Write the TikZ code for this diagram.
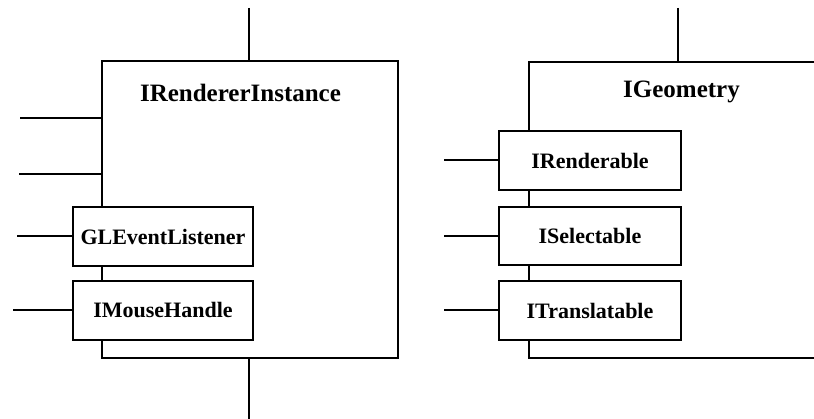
\documentclass[tikz,border=0pt]{standalone}
\usepackage{fontspec}
\setmainfont{Liberation Serif}
\begin{document}
\begin{tikzpicture}[x=1pt,y=-1pt,line width=2pt,
  component/.style={draw,fill=white,inner sep=0pt,anchor=north west},
  iface/.style={draw,fill=white,inner sep=0pt,
    font=\fontsize{22}{24}\bfseries\selectfont},
  caption/.style={inner sep=0pt,font=\fontsize{25}{28}\bfseries\selectfont}]
  \clip (0,0) rectangle (814,419);

  % left component with its provided interfaces
  \node[component,minimum width=296pt,minimum height=297pt] (rinst) at (101,60) {};
  \node[caption] (rinstname) at (240.5,93) {IRendererInstance};
  \node[iface,minimum width=180pt,minimum height=59pt] (gl) at (163,236.5) {GLEventListener};
  \node[iface,minimum width=180pt,minimum height=59pt] (mouse) at (163,310.5) {IMouseHandle};

  % right component, running past the right edge
  \node[component,minimum width=300pt,minimum height=296pt] (geom) at (528,61) {};
  \node[caption] (geomname) at (681.5,92) {IGeometry};
  \node[iface,minimum width=182pt,minimum height=59pt] (rend) at (590,160.5) {IRenderable};
  \node[iface,minimum width=182pt,minimum height=58pt] (sel) at (590,236) {ISelectable};
  \node[iface,minimum width=182pt,minimum height=59pt] (trans) at (590,310.5) {ITranslatable};

  % free ends of the connectors
  \coordinate (rtop) at (249,8);
  \coordinate (rbot) at (249,419);
  \coordinate (rl1) at (20,118);
  \coordinate (rl2) at (19,174);
  \coordinate (rl3) at (17,236.5);
  \coordinate (rl4) at (13,310.5);
  \coordinate (gtop) at (678,8);
  \coordinate (gl1) at (444,160.5);
  \coordinate (gl2) at (444,236);
  \coordinate (gl3) at (444,310.5);

  \draw (rtop) -- (rtop |- rinst.north);
  \draw (rbot) -- (rbot |- rinst.south);
  \draw (rl1) -- (rl1 -| rinst.west);
  \draw (rl2) -- (rl2 -| rinst.west);
  \draw (rl3) -- (gl.west);
  \draw (rl4) -- (mouse.west);
  \draw (gtop) -- (gtop |- geom.north);
  \draw (gl1) -- (rend.west);
  \draw (gl2) -- (sel.west);
  \draw (gl3) -- (trans.west);
\end{tikzpicture}
\end{document}
